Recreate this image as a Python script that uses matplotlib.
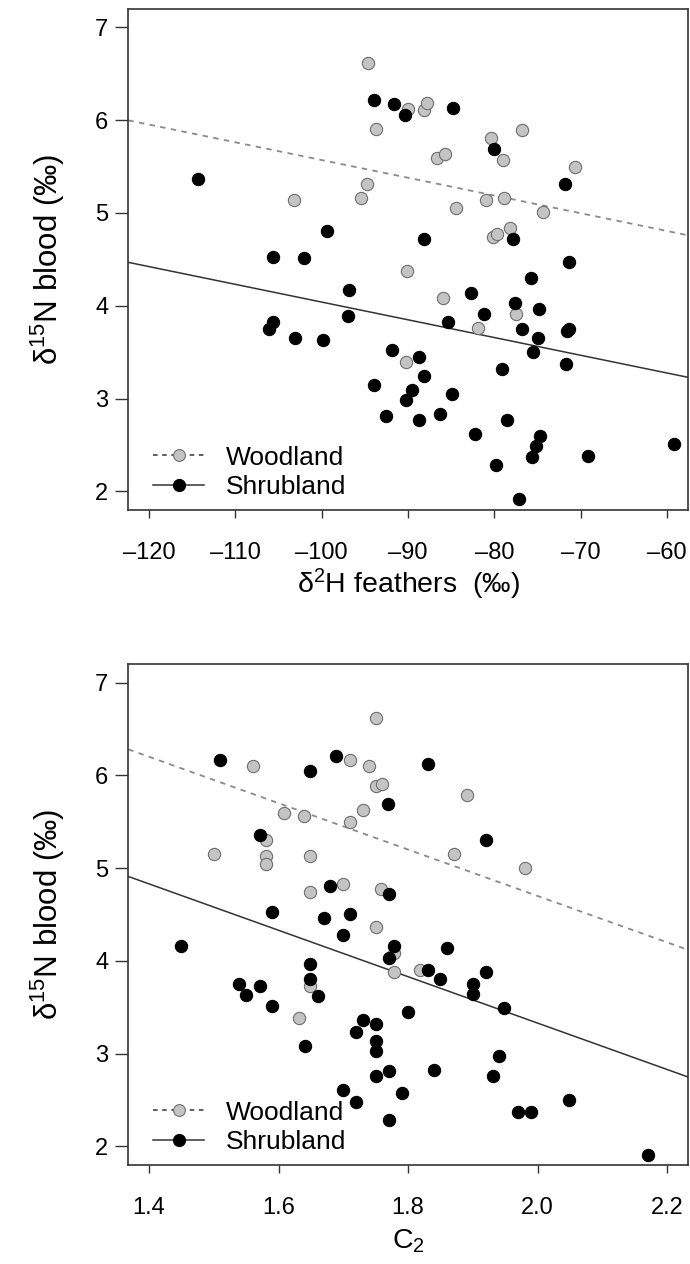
import numpy as np
import matplotlib
matplotlib.use('Agg')
import matplotlib.pyplot as plt

plt.rcParams['font.family'] = ['Liberation Sans', 'DejaVu Sans']
plt.rcParams['mathtext.fontset'] = 'custom'
plt.rcParams['mathtext.rm'] = 'Liberation Sans'
plt.rcParams['mathtext.it'] = 'Liberation Sans:italic'

# top panel: d2H feathers vs d15N blood
wood_h = [-94.65, -93.7, -94.77, -95.5, -103.2, -90.0, -88.2, -87.8, -80.4, -76.8,
          -86.7, -85.7, -79.0, -70.7, -81.0, -78.9, -84.5, -74.4, -80.2, -79.7,
          -78.2, -90.1, -85.9, -77.55, -81.85, -90.2]
wood_h_n = [6.62, 5.90, 5.31, 5.16, 5.14, 6.12, 6.11, 6.18, 5.81, 5.89,
            5.59, 5.63, 5.57, 5.50, 5.14, 5.16, 5.05, 5.01, 4.74, 4.77,
            4.84, 4.38, 4.08, 3.91, 3.76, 3.39]
shrub_h = [-94.0, -91.6, -114.3, -99.4, -105.6, -102.1, -90.4, -84.8, -80.0, -71.85,
           -77.8, -88.2, -71.3, -75.7, -96.8, -105.6, -106.1, -103.1, -97.0, -99.9,
           -91.9, -94.0, -92.6, -82.7, -77.6, -74.8, -81.2, -85.35, -76.8, -71.4,
           -71.6, -75.0, -75.5, -88.75, -71.7, -79.1, -88.1, -89.5, -90.2, -84.9,
           -88.7, -86.3, -78.5, -82.2, -74.7, -75.2, -75.6, -69.2, -59.15, -79.8,
           -77.1]
shrub_h_n = [6.22, 6.17, 5.37, 4.81, 4.53, 4.51, 6.06, 6.13, 5.69, 5.31,
             4.72, 4.72, 4.47, 4.30, 4.17, 3.82, 3.75, 3.65, 3.89, 3.63,
             3.52, 3.15, 2.81, 4.14, 4.03, 3.97, 3.91, 3.83, 3.75, 3.75,
             3.73, 3.65, 3.50, 3.45, 3.37, 3.32, 3.24, 3.09, 2.98, 3.05,
             2.77, 2.83, 2.77, 2.62, 2.60, 2.49, 2.37, 2.38, 2.51, 2.29,
             1.92]

# bottom panel: C2 vs d15N blood
wood_c = [1.750, 1.560, 1.711, 1.740, 1.751, 1.760, 1.730, 1.711, 1.609, 1.640,
          1.580, 1.500, 1.580, 1.580, 1.649, 1.700, 1.649, 1.759, 1.891, 1.871,
          1.980, 1.750, 1.649, 1.631, 1.779, 1.779, 1.819]
wood_c_n = [6.62, 6.10, 6.16, 6.10, 5.89, 5.91, 5.63, 5.50, 5.59, 5.56,
            5.30, 5.15, 5.13, 5.04, 5.13, 4.83, 4.74, 4.77, 5.79, 5.15,
            5.00, 4.37, 3.73, 3.38, 4.08, 3.88, 3.90]
shrub_c = [1.509, 1.649, 1.689, 1.769, 1.571, 1.680, 1.770, 1.831, 1.920, 1.590,
           1.670, 1.710, 1.700, 1.450, 1.649, 1.649, 1.661, 1.539, 1.571, 1.549,
           1.590, 1.730, 1.720, 1.750, 1.750, 1.750, 1.641, 1.770, 1.750, 1.700,
           1.720, 1.770, 1.790, 1.779, 1.771, 1.860, 1.831, 1.850, 1.920, 1.901,
           1.901, 1.949, 1.800, 1.940, 1.840, 1.931, 2.049, 1.970, 1.990, 2.170]
shrub_c_n = [6.16, 6.05, 6.21, 5.69, 5.36, 4.81, 4.72, 6.12, 5.30, 4.53,
             4.46, 4.51, 4.28, 4.16, 3.97, 3.81, 3.62, 3.75, 3.73, 3.63,
             3.51, 3.36, 3.23, 3.32, 3.14, 3.03, 3.08, 2.81, 2.76, 2.61,
             2.48, 2.29, 2.58, 4.16, 4.03, 4.14, 3.90, 3.81, 3.88, 3.75,
             3.64, 3.49, 3.45, 2.97, 2.82, 2.76, 2.50, 2.37, 2.37, 1.91]

# fitted lines (intercept, slope)
fit_h = {'Woodland': (3.66, -0.0191), 'Shrubland': (2.13, -0.0191)}
fit_c = {'Woodland': (9.70, -2.50), 'Shrubland': (8.33, -2.50)}

x_ticks_h = [-120, -110, -100, -90, -80, -70, -60]
x_ticks_c = [1.4, 1.6, 1.8, 2.0, 2.2]
x_tick_labels_c = ['1.4', '1.6', '1.8', '2.0', '2.2']
y_ticks = [2, 3, 4, 5, 6, 7]

GREY = '#c4c4c4'
fig = plt.figure(figsize=(6.9, 12.64), dpi=100)
ax1 = fig.add_axes([0.186, 0.5965, 0.8107, 0.3966])
ax2 = fig.add_axes([0.186, 0.0783, 0.8107, 0.3964])


def panel(ax, wx, wy, sx, sy, fits, xlim, xticks, xticklabels, xlabel, xpad):
    xs = np.array(xlim)
    b0, b1 = fits['Woodland']
    ax.plot(xs, b0 + b1 * xs, color='#8a8a8a', lw=1.3, ls=(0, (3, 3)), zorder=1)
    b0, b1 = fits['Shrubland']
    ax.plot(xs, b0 + b1 * xs, color='#333333', lw=1.1, zorder=1)
    ax.scatter(wx, wy, s=78, c=GREY, edgecolors='#6e6e6e', linewidths=0.8, zorder=2)
    ax.scatter(sx, sy, s=78, c='black', edgecolors='black', linewidths=0.8, zorder=3)

    h1, = ax.plot([], [], color='#333333', lw=1.1, ls=(0, (3, 3)), marker='o',
                  ms=8.5, mfc=GREY, mec='#6e6e6e', mew=0.8)
    h2, = ax.plot([], [], color='#333333', lw=1.1, marker='o',
                  ms=8.5, mfc='black', mec='black')
    ax.legend([h1, h2], ['Woodland', 'Shrubland'], loc='lower left', frameon=False,
              fontsize=19, handlelength=1.9, handletextpad=0.85, labelspacing=0.22,
              borderaxespad=0.0, bbox_to_anchor=(0.026, 0.0))

    ax.set_xlim(xlim)
    ax.set_ylim(1.8, 7.2)
    ax.set_xticks(xticks)
    ax.set_xticklabels(xticklabels)
    ax.set_yticks(y_ticks)
    ax.tick_params(axis='x', length=6, width=1, pad=17, labelsize=17, color='#333333')
    ax.tick_params(axis='y', length=9.4, width=1, pad=5, labelsize=17, color='#333333')
    for s in ax.spines.values():
        s.set_linewidth(1.2)
        s.set_color('#333333')
    ax.set_xlabel(xlabel, fontsize=20.5, labelpad=xpad)
    ax.set_ylabel('δ$^{15}$N blood (‰)', fontsize=22.5, labelpad=20)


panel(ax1, wood_h, wood_h_n, shrub_h, shrub_h_n, fit_h, (-122.4, -57.6),
      x_ticks_h, ['\u2013' + str(-v) for v in x_ticks_h], 'δ$^{2}$H feathers  (‰)', 2)
panel(ax2, wood_c, wood_c_n, shrub_c, shrub_c_n, fit_c, (1.368, 2.232),
      x_ticks_c, x_tick_labels_c, 'C$_{2}$', 6)

fig.savefig('out.png', dpi=100)
